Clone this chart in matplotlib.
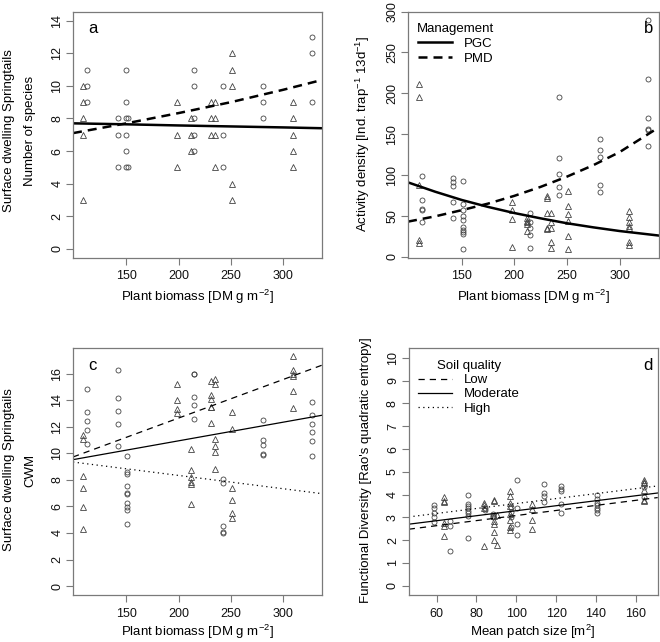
import matplotlib
matplotlib.use("Agg")
import matplotlib.pyplot as plt
from matplotlib.lines import Line2D
import numpy as np

plt.rcParams["font.family"] = ["Liberation Sans", "DejaVu Sans"]
plt.rcParams["mathtext.fontset"] = "custom"
plt.rcParams["mathtext.rm"] = "Liberation Sans"

# --- panel a: number of species vs plant biomass ---
a_tri_x = [109] * 5 + [198] * 3 + [212] * 3 + [231] * 3 + [235] * 4 + [251] * 5 + [309] * 5
a_tri_y = [10, 9, 8, 7, 3, 9, 7, 5, 8, 7, 6, 9, 8, 7, 9, 8, 7, 5, 12, 11, 10, 4, 3, 9, 8, 7, 6, 5]
a_circ_x = [112] * 3 + [142] * 3 + [150] * 6 + [152] * 2 + [215] * 5 + [242] * 3 + [281] * 3 + [327] * 3
a_circ_y = [11, 10, 9, 8, 7, 5, 11, 9, 8, 7, 6, 5, 8, 5, 11, 10, 8, 7, 6, 10, 7, 5, 10, 9, 8, 13, 12, 9]
a_fit_x = [99, 150, 200, 250, 300, 337]
a_pgc_y = [7.70, 7.64, 7.57, 7.51, 7.45, 7.40]
a_pmd_y = [7.10, 7.70, 8.33, 9.00, 9.76, 10.36]

# --- panel b: activity density ---
b_tri_x = [109] * 5 + [198] * 4 + [212] * 5 + [231] * 5 + [235] * 5 + [251] * 6 + [309] * 7
b_tri_y = [211, 196, 88, 21, 17, 67, 57, 46, 12, 47, 44, 42, 40, 31, 74, 72, 53, 35, 34,
           53, 43, 35, 18, 11, 81, 62, 52, 44, 25, 10, 56, 49, 43, 38, 35, 18, 15]
b_circ_x = [112] * 5 + [142] * 5 + [151] * 10 + [215] * 5 + [242] * 5 + [281] * 5 + [327] * 6
b_circ_y = [99, 70, 58, 57, 43, 96, 92, 87, 67, 47, 93, 65, 57, 50, 45, 36, 33, 30, 28, 9,
            54, 43, 35, 27, 11, 196, 121, 101, 85, 76, 144, 131, 122, 88, 79, 290, 218, 170, 156, 155, 136]
b_fit_x = [99, 125, 150, 175, 200, 225, 250, 275, 300, 337]
b_pgc_y = [91, 79.5, 69.5, 61, 53.5, 47, 41, 36, 31.5, 26]
b_pmd_y = [43, 49.5, 57, 65, 74.5, 85.5, 98, 112, 128, 158]

# --- panel c: CWM ---
c_tri_x = [109] * 6 + [198] * 4 + [212] * 6 + [231] * 6 + [235] * 6 + [251] * 6 + [309] * 6
c_tri_y = [11.35, 11.1, 8.27, 7.38, 5.95, 4.27, 15.2, 14.0, 13.3, 13.0,
           10.35, 8.77, 8.2, 7.84, 7.71, 6.15, 15.45, 14.35, 14.12, 13.5, 13.45, 12.3,
           15.6, 15.25, 11.1, 10.55, 10.08, 8.84, 13.1, 11.86, 7.41, 6.5, 5.53, 5.12,
           17.3, 16.3, 16.0, 15.8, 14.67, 13.41]
c_circ_x = [112] * 5 + [142] * 5 + [151] * 10 + [215] * 5 + [242] * 5 + [281] * 5 + [327] * 6
c_circ_y = [14.87, 13.1, 12.43, 11.78, 10.68, 16.25, 14.17, 13.16, 12.23, 10.52,
            9.8, 8.6, 8.45, 7.53, 7.03, 6.9, 6.25, 5.95, 5.75, 4.7,
            16.0, 15.98, 14.22, 13.67, 12.56, 8.1, 7.73, 4.52, 4.1, 4.03,
            12.53, 10.98, 10.6, 9.97, 9.85, 13.87, 12.91, 12.23, 11.6, 10.93, 9.8]
c_fit_x = [99, 337]
c_low_y = [9.72, 16.63]
c_mod_y = [9.52, 12.86]
c_high_y = [9.34, 6.96]

# --- panel d: functional diversity vs patch size ---
d_tri_x = [63.5] * 6 + [84] * 4 + [89] * 7 + [90.5] * 2 + [97] * 8 + [108] * 4 + [164] * 6
d_tri_y = [3.9, 3.7, 3.67, 2.75, 2.6, 2.17, 3.63, 3.53, 3.4, 1.75,
           3.78, 3.7, 3.05, 2.85, 2.69, 2.34, 2.0, 1.8, 3.1,
           4.16, 3.93, 3.63, 3.5, 3.14, 2.88, 2.58, 2.44, 3.6, 3.38, 2.88, 2.51,
           4.65, 4.57, 4.5, 4.2, 3.78, 3.72]
d_circ_x = [58.5] * 5 + [66.5] * 3 + [76] * 8 + [84.5] * 2 + [88.5] * 3 + [97.5] * 4 + [100.5] * 4 \
    + [114] * 4 + [122.6] * 5 + [140.6] * 7 + [164] * 2
d_circ_y = [3.53, 3.39, 3.2, 3.02, 2.8, 2.85, 2.63, 1.53,
            4.0, 3.6, 3.49, 3.39, 3.28, 3.18, 3.07, 2.1, 3.42, 3.31, 3.15, 3.07, 3.0,
            3.46, 3.24, 3.02, 2.58, 4.66, 3.39, 2.7, 2.22, 4.48, 4.07, 3.94, 3.68,
            4.36, 4.26, 4.16, 3.6, 3.2, 4.0, 3.82, 3.64, 3.53, 3.43, 3.31, 3.17, 4.35, 3.9]
d_fit_x = [46, 171]
d_low_y = [2.48, 3.87]
d_mod_y = [2.7, 4.07]
d_high_y = [3.02, 4.38]

W, H = 660, 642
fig = plt.figure(figsize=(6.6, 6.42), dpi=100)


def make_ax(l, t, r, b):
    ax = fig.add_axes([l / W, 1 - b / H, (r - l) / W, (b - t) / H])
    for s in ax.spines.values():
        s.set_color("#7a7a7a")
        s.set_linewidth(0.9)
    ax.tick_params(direction="out", length=5, width=0.8, color="#7a7a7a",
                   labelsize=9, labelcolor="#111111")
    ax.tick_params(axis="x", pad=4)
    ax.tick_params(axis="y", pad=2)
    for lab in ax.get_yticklabels():
        lab.set_rotation(90)
    return ax


def points(ax, tx, ty, cx, cy):
    ax.plot(tx, ty, ls="none", marker="^", ms=4.6, mfc="none", mec="#444444", mew=0.6)
    ax.plot(cx, cy, ls="none", marker="o", ms=3.6, mfc="none", mec="#444444", mew=0.6)


def rot_labels(ax):
    for lab in ax.get_yticklabels():
        lab.set_rotation(90)
        lab.set_va("center")


dash_thick = (0, (3.6, 2.4))
dash_thin = (0, (5, 4))
dot_thin = (0, (1, 2.8))

# panel a
ax = make_ax(73, 11.5, 322, 258)
points(ax, a_tri_x, a_tri_y, a_circ_x, a_circ_y)
ax.plot(a_fit_x, a_pgc_y, color="black", lw=1.8)
ax.plot(a_fit_x, a_pmd_y, color="black", lw=1.8, ls=dash_thick)
ax.set_xlim(99, 337)
ax.set_ylim(-0.56, 14.56)
ax.set_xticks([150, 200, 250, 300])
ax.set_yticks(range(0, 15, 2))
rot_labels(ax)
ax.text(0.06, 0.93, "a", transform=ax.transAxes, fontsize=12, va="center")

# panel b
ax = make_ax(408, 11.5, 658.5, 258)
points(ax, b_tri_x, b_tri_y, b_circ_x, b_circ_y)
ax.plot(b_fit_x, b_pgc_y, color="black", lw=1.8)
ax.plot(b_fit_x, b_pmd_y, color="black", lw=1.8, ls=dash_thick)
ax.set_xlim(99, 337)
ax.set_ylim(-1.5, 300)
ax.set_xticks([150, 200, 250, 300])
ax.set_yticks(range(0, 301, 50))
rot_labels(ax)
ax.text(0.94, 0.93, "b", transform=ax.transAxes, fontsize=12, va="center")
handles = [Line2D([], [], color="black", lw=1.8),
           Line2D([], [], color="black", lw=1.8, ls=dash_thick)]
leg = ax.legend(handles, ["PGC", "PMD"], title="Management", loc="upper left",
                bbox_to_anchor=(0.0, 0.99), frameon=False, fontsize=9.5,
                title_fontsize=9.5, handlelength=2.6, labelspacing=0.2,
                borderaxespad=0.3, handletextpad=0.9)

# panel c
ax = make_ax(73, 348.3, 322, 595.3)
points(ax, c_tri_x, c_tri_y, c_circ_x, c_circ_y)
ax.plot(c_fit_x, c_low_y, color="black", lw=0.9, ls=dash_thin)
ax.plot(c_fit_x, c_mod_y, color="black", lw=0.9)
ax.plot(c_fit_x, c_high_y, color="black", lw=0.9, ls=dot_thin)
ax.set_xlim(99, 337)
ax.set_ylim(-0.69, 17.9)
ax.set_xticks([150, 200, 250, 300])
ax.set_yticks(range(0, 17, 2))
rot_labels(ax)
ax.text(0.06, 0.93, "c", transform=ax.transAxes, fontsize=12, va="center")

# panel d
ax = make_ax(408.7, 348.3, 657.7, 595.3)
points(ax, d_tri_x, d_tri_y, d_circ_x, d_circ_y)
ax.plot(d_fit_x, d_low_y, color="black", lw=0.9, ls=dash_thin)
ax.plot(d_fit_x, d_mod_y, color="black", lw=0.9)
ax.plot(d_fit_x, d_high_y, color="black", lw=0.9, ls=dot_thin)
ax.set_xlim(46, 171)
ax.set_ylim(-0.42, 10.42)
ax.set_xticks(range(60, 161, 20))
ax.set_yticks(range(0, 11))
rot_labels(ax)
ax.text(0.94, 0.93, "d", transform=ax.transAxes, fontsize=12, va="center")
handles = [Line2D([], [], color="black", lw=0.9, ls=dash_thin),
           Line2D([], [], color="black", lw=0.9),
           Line2D([], [], color="black", lw=0.9, ls=dot_thin)]
ax.legend(handles, ["Low", "Moderate", "High"], title="Soil quality", loc="upper left",
          bbox_to_anchor=(0.0, 0.99), frameon=False, fontsize=9.5,
          title_fontsize=9.5, handlelength=2.6, labelspacing=0.15,
          borderaxespad=0.3, handletextpad=0.9)

# axis titles
def ftext(x, y, s, rot=0):
    fig.text(x / W, 1 - y / H, s, rotation=rot, ha="center", va="center", fontsize=9.5)


xlab = "Plant biomass [DM g m$^{-2}$]"
ftext(197, 297, xlab)
ftext(533, 297, xlab)
ftext(197, 632, xlab)
ftext(533, 632, "Mean patch size [m$^{2}$]")
ftext(9, 131, "Surface dwelling Springtails", 90)
ftext(30, 131, "Number of species", 90)
ftext(9, 470, "Surface dwelling Springtails", 90)
ftext(30, 470, "CWM", 90)
ftext(363, 134, "Activity density [Ind. trap$^{-1}$ 13d$^{-1}$]", 90)
ftext(366, 470, "Functional Diversity [Rao's quadratic entropy]", 90)

fig.savefig("out.png", dpi=100)
